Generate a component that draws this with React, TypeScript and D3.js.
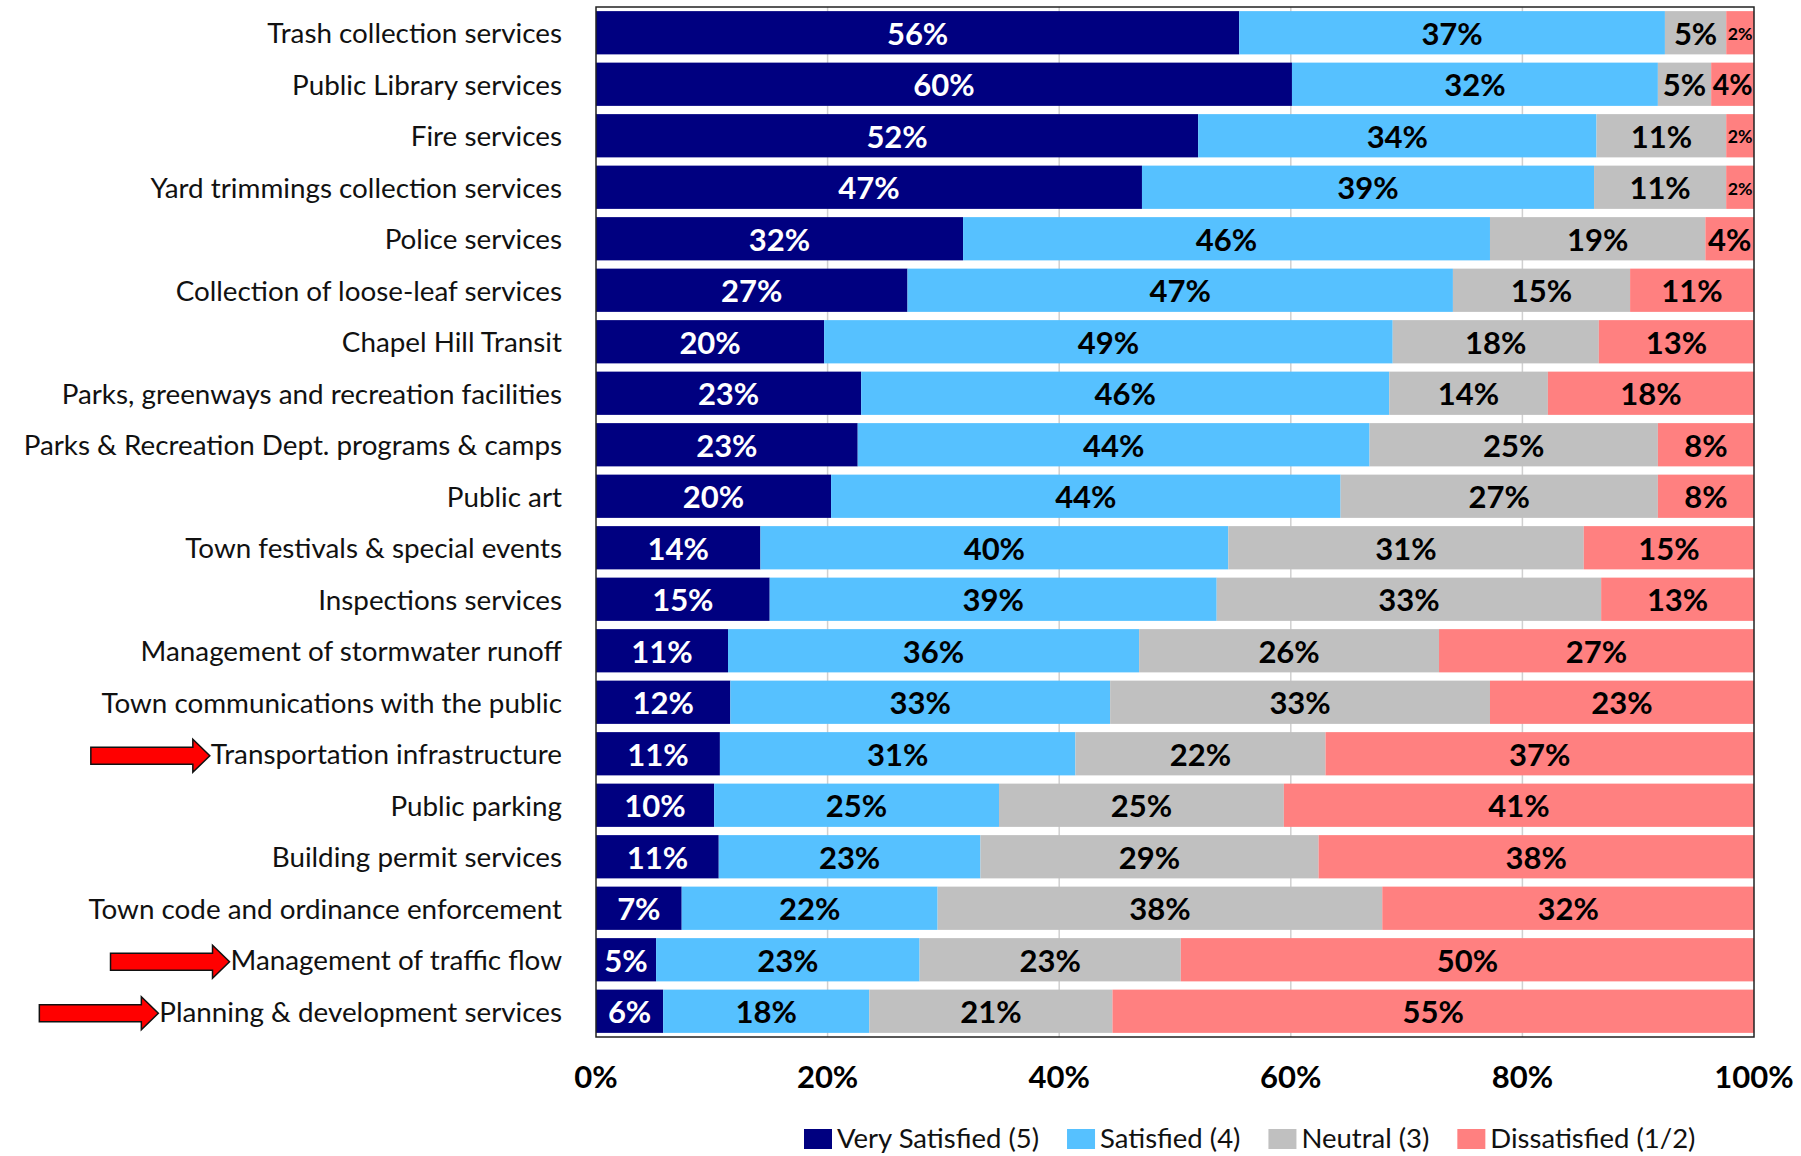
import React, { useEffect, useRef } from 'react';
import * as d3 from 'd3';

const categories = [
  'Trash collection services',
  'Public Library services',
  'Fire services',
  'Yard trimmings collection services',
  'Police services',
  'Collection of loose-leaf services',
  'Chapel Hill Transit',
  'Parks, greenways and recreation facilities',
  'Parks & Recreation Dept. programs & camps',
  'Public art',
  'Town festivals & special events',
  'Inspections services',
  'Management of stormwater runoff',
  'Town communications with the public',
  'Transportation infrastructure',
  'Public parking',
  'Building permit services',
  'Town code and ordinance enforcement',
  'Management of traffic flow',
  'Planning & development services',
];

const verySatisfied = [55.6, 60.1, 52.0, 47.1, 31.7, 26.9, 19.7, 22.9, 22.6, 20.3, 14.2, 15.0, 11.4, 11.6, 10.7, 10.2, 10.6, 7.4, 5.2, 5.8];
const satisfied = [36.8, 31.6, 34.4, 39.0, 45.5, 47.1, 49.1, 45.6, 44.2, 44.0, 40.4, 38.6, 35.5, 32.8, 30.7, 24.6, 22.6, 22.1, 22.8, 17.8];
const neutral = [5.3, 4.6, 11.2, 11.4, 18.6, 15.3, 17.8, 13.7, 24.9, 27.4, 30.7, 33.2, 25.9, 32.8, 21.6, 24.6, 29.2, 38.4, 22.6, 21.0];
const dissatisfied = [2.4, 3.7, 2.4, 2.4, 4.2, 10.7, 13.4, 17.8, 8.3, 8.3, 14.7, 13.2, 27.2, 22.8, 37.0, 40.6, 37.6, 32.1, 49.6, 55.4];

const seriesKeys = ['verySatisfied', 'satisfied', 'neutral', 'dissatisfied'];
const seriesNames = ['Very Satisfied (5)', 'Satisfied (4)', 'Neutral (3)', 'Dissatisfied (1/2)'];
const seriesColors = ['#000080', '#56C1FF', '#C0C0C0', '#FF8080'];
const labelColors = ['#ffffff', '#000000', '#000000', '#000000'];
const xTicks = [0, 0.2, 0.4, 0.6, 0.8, 1];
const arrowRows = ['Transportation infrastructure', 'Management of traffic flow', 'Planning & development services'];

const W = 1801;
const H = 1156;
const FONT = 'Lato, "Open Sans", sans-serif';

export default function App() {
  const ref = useRef<SVGSVGElement | null>(null);

  useEffect(() => {
    const svg = d3.select(ref.current);
    svg.selectAll('*').remove();

    const left = 596, right = 1754, top = 7, bottom = 1037;
    const rows = categories.map((c, i) => ({
      category: c,
      verySatisfied: verySatisfied[i],
      satisfied: satisfied[i],
      neutral: neutral[i],
      dissatisfied: dissatisfied[i],
    }));
    const stacked = d3.stack<any>().keys(seriesKeys).offset(d3.stackOffsetExpand)(rows);

    const x = d3.scaleLinear().domain([0, 1]).range([left, right]);
    const y = d3.scaleBand<string>().domain(categories).range([top, bottom]).paddingInner(0.16).paddingOuter(0.08);
    const bw = y.bandwidth();

    // gridlines
    svg.append('g').selectAll('line').data(xTicks.slice(1, -1)).join('line')
      .attr('x1', d => x(d)).attr('x2', d => x(d))
      .attr('y1', top).attr('y2', bottom)
      .attr('stroke', '#D0D0D0').attr('stroke-width', 1.5);

    // bars
    const g = svg.append('g');
    stacked.forEach((layer, si) => {
      g.append('g').attr('fill', seriesColors[si]).selectAll('rect').data(layer).join('rect')
        .attr('x', d => x(d[0]))
        .attr('width', d => x(d[1]) - x(d[0]))
        .attr('y', d => y(d.data.category)!)
        .attr('height', bw);
    });

    // border
    svg.append('rect').attr('x', left).attr('y', top).attr('width', right - left).attr('height', bottom - top)
      .attr('fill', 'none').attr('stroke', '#222').attr('stroke-width', 1.5);

    // value labels
    const base = 31;
    stacked.forEach((layer, si) => {
      const raw = [verySatisfied, satisfied, neutral, dissatisfied][si];
      layer.forEach((d, i) => {
        const segW = x(d[1]) - x(d[0]);
        const cy = y(d.data.category)! + bw / 2;
        const t = svg.append('text')
          .attr('x', (x(d[0]) + x(d[1])) / 2)
          .attr('text-anchor', 'middle')
          .attr('font-family', FONT).attr('font-weight', 700)
          .attr('font-size', base)
          .attr('fill', labelColors[si])
          .text(Math.round(raw[i]) + '%');
        const tw = (t.node() as SVGTextElement).getComputedTextLength();
        let fs = base;
        if (tw > segW - 4) fs = base * (segW - 3) / tw;
        t.attr('font-size', fs).attr('y', cy + fs * 0.36 + 1);
      });
    });

    // category labels + arrows
    categories.forEach((c) => {
      const cy = y(c)! + bw / 2;
      const t = svg.append('text')
        .attr('x', 562).attr('y', cy + 10.5)
        .attr('text-anchor', 'end')
        .attr('font-family', FONT).attr('font-size', 27.8)
        .attr('fill', '#111')
        .text(c);
      if (arrowRows.includes(c)) {
        const tw = (t.node() as SVGTextElement).getComputedTextLength();
        const tip = 562 - tw - 1;
        const len = 119, headL = 17, bodyH = 17, headH = 33;
        const ay = cy + 2;
        const pts: [number, number][] = [
          [tip - len, ay - bodyH / 2],
          [tip - headL, ay - bodyH / 2],
          [tip - headL, ay - headH / 2],
          [tip, ay],
          [tip - headL, ay + headH / 2],
          [tip - headL, ay + bodyH / 2],
          [tip - len, ay + bodyH / 2],
        ];
        svg.append('polygon')
          .attr('points', pts.map(p => p.join(',')).join(' '))
          .attr('fill', '#FF0000').attr('stroke', '#111').attr('stroke-width', 1.5);
      }
    });

    // x tick labels
    svg.append('g').selectAll('text').data(xTicks).join('text')
      .attr('x', d => x(d)).attr('y', 1088)
      .attr('text-anchor', 'middle')
      .attr('font-family', FONT).attr('font-weight', 700).attr('font-size', 31)
      .attr('fill', '#000')
      .text(d => d3.format('.0%')(d));

    // legend
    let lx = 804;
    seriesNames.forEach((name, i) => {
      svg.append('rect').attr('x', lx).attr('y', 1129).attr('width', 28).attr('height', 20)
        .attr('fill', seriesColors[i]);
      const t = svg.append('text').attr('x', lx + 33).attr('y', 1148)
        .attr('font-family', FONT).attr('font-size', 27.5).attr('fill', '#111')
        .text(name);
      const tw = (t.node() as SVGTextElement).getComputedTextLength();
      lx = lx + 33 + tw + 28;
    });
  }, []);

  return (
    <svg ref={ref} width={W} height={H}
      style={{ position: 'absolute', left: 0, top: 0, display: 'block', background: '#fff' }} />
  );
}
